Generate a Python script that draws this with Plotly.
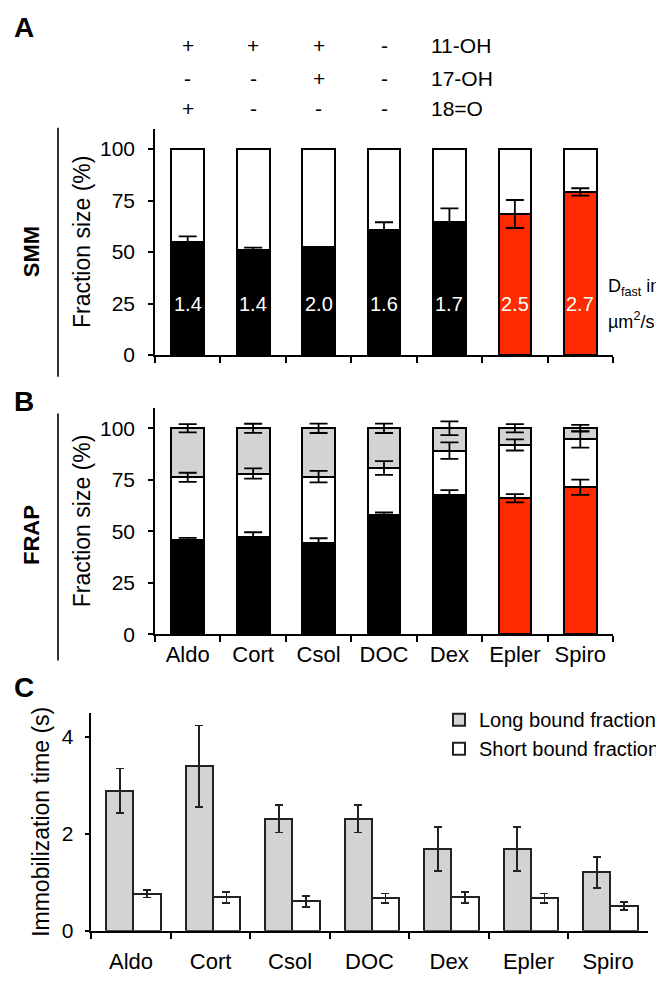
import plotly.graph_objects as go

W, H = 664, 982
FONT = "Arial, Liberation Sans, sans-serif"

# ---------------- data ----------------
steroids = ["Aldo", "Cort", "Csol", "DOC", "Dex", "Epler", "Spiro"]
bar_colors = ["#000000", "#000000", "#000000", "#000000", "#000000", "#ff2a00", "#ff2a00"]

# header: chemical groups for first four steroids
group_names = ["11-OH", "17-OH", "18=O"]
group_11oh = ["+", "+", "+", "-"]
group_17oh = ["-", "-", "+", "-"]
group_18o = ["+", "-", "-", "-"]

# Panel A (SMM): fast fraction (%) and its error, D_fast (µm²/s)
smm_fast = [54.9, 51.2, 52.3, 60.8, 64.8, 68.5, 79.2]
smm_fast_err = [2.7, 1.0, 0.0, 3.7, 6.4, 6.8, 1.8]
smm_dfast = [1.4, 1.4, 2.0, 1.6, 1.7, 2.5, 2.7]

# Panel B (FRAP): fraction segments (%) and errors at each segment top
frap_fast = [45.7, 47.3, 44.4, 58.0, 67.6, 66.0, 71.4]
frap_fast_err = [1.1, 2.2, 2.2, 1.1, 2.4, 2.0, 3.7]
frap_short = [30.5, 30.7, 32.1, 22.7, 21.5, 25.9, 23.2]
frap_short_err = [2.2, 2.5, 2.8, 3.3, 4.0, 2.7, 4.0]
frap_long = [23.8, 22.0, 23.5, 19.3, 10.9, 8.1, 5.4]
frap_long_err = [2.0, 2.2, 2.3, 2.3, 3.3, 2.0, 1.6]

# Panel C: immobilization times (s)
long_time = [2.89, 3.40, 2.31, 2.31, 1.69, 1.69, 1.21]
long_time_err = [0.46, 0.84, 0.28, 0.28, 0.46, 0.46, 0.32]
short_time = [0.77, 0.69, 0.61, 0.67, 0.69, 0.67, 0.51]
short_time_err = [0.08, 0.11, 0.11, 0.10, 0.11, 0.10, 0.08]

# ---------------- layout helpers ----------------
def px_x(v):
    return v / W

def px_y(v):
    return 1 - v / H

fig = go.Figure()
OUT = dict(color="black", width=2)
ERR = dict(type="data", color="black", thickness=1.8, width=9)

# Panel A
fig.add_trace(go.Bar(x=steroids, y=smm_fast, marker=dict(color=bar_colors, line=OUT),
                     xaxis="x", yaxis="y", width=0.5, showlegend=False, hoverinfo="skip"))
fig.add_trace(go.Bar(x=steroids, y=[100 - v for v in smm_fast],
                     marker=dict(color="white", line=OUT),
                     xaxis="x", yaxis="y", width=0.5, showlegend=False, hoverinfo="skip"))
fig.add_trace(go.Scatter(x=steroids, y=smm_fast, mode="markers",
                         marker=dict(size=1, color="rgba(0,0,0,0)"),
                         error_y=dict(ERR, array=smm_fast_err),
                         xaxis="x", yaxis="y", showlegend=False, hoverinfo="skip"))

# Panel B
white_top = [a + b for a, b in zip(frap_fast, frap_short)]
gray_top = [a + b for a, b in zip(white_top, frap_long)]
fig.add_trace(go.Bar(x=steroids, y=frap_fast, marker=dict(color=bar_colors, line=OUT),
                     xaxis="x2", yaxis="y2", width=0.5, showlegend=False, hoverinfo="skip"))
fig.add_trace(go.Bar(x=steroids, y=frap_short, marker=dict(color="white", line=OUT),
                     xaxis="x2", yaxis="y2", width=0.5, showlegend=False, hoverinfo="skip"))
fig.add_trace(go.Bar(x=steroids, y=frap_long, marker=dict(color="#d3d3d3", line=OUT),
                     xaxis="x2", yaxis="y2", width=0.5, showlegend=False, hoverinfo="skip"))
for tops, errs in [(frap_fast, frap_fast_err), (white_top, frap_short_err), (gray_top, frap_long_err)]:
    fig.add_trace(go.Scatter(x=steroids, y=tops, mode="markers",
                             marker=dict(size=1, color="rgba(0,0,0,0)"),
                             error_y=dict(ERR, array=errs),
                             xaxis="x2", yaxis="y2", showlegend=False, hoverinfo="skip"))

# Panel C
ERRC = dict(type="data", color="#222222", thickness=1.8, width=4)
fig.add_trace(go.Bar(x=steroids, y=long_time, name="Long bound fraction",
                     marker=dict(color="#d3d3d3", line=dict(color="#222222", width=2)),
                     error_y=dict(ERRC, array=long_time_err),
                     offsetgroup="long", width=0.343, offset=-0.315,
                     xaxis="x3", yaxis="y3", hoverinfo="skip"))
fig.add_trace(go.Bar(x=steroids, y=short_time, name="Short bound fraction",
                     marker=dict(color="white", line=dict(color="#222222", width=2)),
                     error_y=dict(ERRC, array=short_time_err),
                     offsetgroup="short", width=0.343, offset=0.028,
                     xaxis="x3", yaxis="y3", hoverinfo="skip"))

axis_common = dict(showline=True, linecolor="black", linewidth=1.5, ticks="outside",
                   tickcolor="black", tickwidth=1.5, showgrid=False, zeroline=False,
                   tickfont=dict(family=FONT, size=21, color="black"))

xAB = [px_x(147), px_x(605)]
fig.update_layout(
    width=W, height=H, margin=dict(l=0, r=0, t=0, b=0),
    paper_bgcolor="white", plot_bgcolor="white",
    font=dict(family=FONT, size=20, color="black"),
    barmode="stack",
    xaxis=dict(axis_common, domain=xAB, anchor="y", showticklabels=False,
               tickson="boundaries", ticklen=6),
    yaxis=dict(axis_common, domain=[px_y(351), px_y(121.9)], anchor="x", range=[0, 110],
               tickvals=[0, 25, 50, 75, 100], ticklen=5, ticklabelstandoff=9,
               title=dict(text="Fraction size (%)", font=dict(size=23), standoff=3)),
    xaxis2=dict(axis_common, domain=xAB, anchor="y2", tickson="boundaries", ticklen=6,
                tickfont=dict(family=FONT, size=22, color="black")),
    yaxis2=dict(axis_common, domain=[px_y(633.3), px_y(404.2)], anchor="x2", range=[0, 110],
                tickvals=[0, 25, 50, 75, 100], ticklen=5, ticklabelstandoff=9,
                title=dict(text="Fraction size (%)", font=dict(size=23), standoff=3)),
    xaxis3=dict(axis_common, domain=[px_x(83.3), px_x(639.8)], anchor="y3",
                tickson="boundaries", ticklen=6, ticklabelstandoff=10,
                tickfont=dict(family=FONT, size=22, color="black")),
    yaxis3=dict(axis_common, domain=[px_y(933.3), px_y(712.8)], anchor="x3", range=[0, 4.5],
                tickvals=[0, 2, 4], ticklen=5, ticklabelstandoff=7,
                title=dict(text="Immobilization time (s)", font=dict(size=23), standoff=6)),
    legend=dict(x=px_x(431), y=px_y(700), xanchor="left", yanchor="top",
                traceorder="normal",
                font=dict(family=FONT, size=20, color="black"),
                bgcolor="rgba(0,0,0,0)", tracegroupgap=0),
)

ann = []
# header table
col_x = steroids[:4]
for vals, name, yy in zip([group_11oh, group_17oh, group_18o], group_names, [38.3, 71.7, 101.7]):
    for cx, v in zip(col_x, vals):
        ann.append(dict(x=cx, xref="x", y=px_y(yy), yref="paper", text=v, showarrow=False,
                        font=dict(size=21), xanchor="center", yanchor="middle"))
    ann.append(dict(x=px_x(421), xref="paper", y=px_y(yy), yref="paper", text=name, showarrow=False,
                    font=dict(size=21), xanchor="left", yanchor="middle"))
# D_fast numbers
for s, d in zip(steroids, smm_dfast):
    ann.append(dict(x=s, xref="x", y=25, yref="y", text=f"{d:.1f}", showarrow=False,
                    font=dict(size=20, color="white"), xanchor="center", yanchor="middle"))
ann.append(dict(x=px_x(598), xref="paper", y=px_y(283), yref="paper", text="D<sub>fast</sub> in",
                showarrow=False, font=dict(size=18), xanchor="left", yanchor="middle"))
ann.append(dict(x=px_x(598), xref="paper", y=px_y(316), yref="paper", text="µm<sup>2</sup>/s",
                showarrow=False, font=dict(size=18), xanchor="left", yanchor="middle"))
# panel letters
for letter, yy in [("A", 20), ("B", 398), ("C", 687)]:
    ann.append(dict(x=px_x(4), xref="paper", y=px_y(yy), yref="paper", text=f"<b>{letter}</b>",
                    showarrow=False, font=dict(size=28), xanchor="left", yanchor="middle"))
# side labels
for lab, yy in [("SMM", 247), ("FRAP", 533)]:
    ann.append(dict(x=px_x(23), xref="paper", y=px_y(yy), yref="paper", text=f"<b>{lab}</b>",
                    showarrow=False, font=dict(size=22), textangle=-90,
                    xanchor="center", yanchor="middle"))
fig.update_layout(annotations=ann)

fig.update_layout(shapes=[
    dict(type="line", xref="paper", yref="paper", x0=px_x(50), x1=px_x(50),
         y0=px_y(121), y1=px_y(373), line=dict(color="#333333", width=2)),
    dict(type="line", xref="paper", yref="paper", x0=px_x(50), x1=px_x(50),
         y0=px_y(410), y1=px_y(660), line=dict(color="#333333", width=2)),
])

fig.write_html("out.html")
